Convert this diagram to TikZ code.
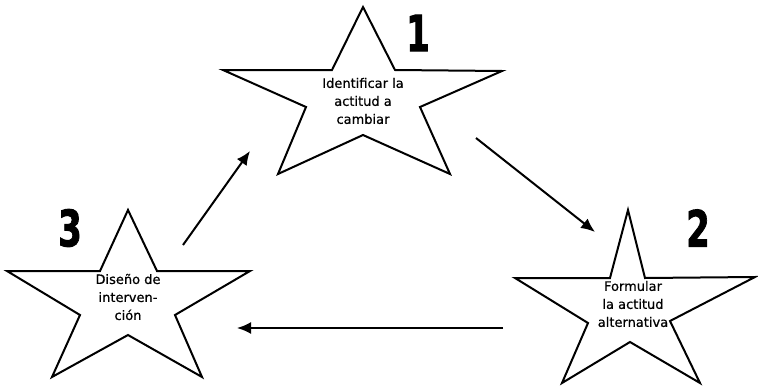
\documentclass[tikz,border=0pt]{standalone}
\usepackage{fontspec}
\usepackage{graphicx}
\setmainfont{DejaVu Sans}
\newfontfamily\labelfont{DejaVu Sans}[FakeBold=0.6]
\newfontfamily\numfont{DejaVu Sans Bold}[FakeBold=2]
\usetikzlibrary{arrows.meta}

\newcommand{\bignum}[1]{\scalebox{0.68}[1]{\numfont\fontsize{50}{50}\selectfont #1}}

\begin{document}
\begin{tikzpicture}[
        x=1pt, y=-1pt,
        starline/.style={line width=2pt, line join=miter},
        steptext/.style={align=center, font=\labelfont\fontsize{13}{18}\selectfont},
        num/.style={inner sep=0pt},
        flow/.style={-{Latex[length=14pt, width=12pt]}, line width=2pt}
    ]
    \useasboundingbox (0,0) rectangle (758,388);

    % stars
    \draw[starline] (363,7) -- (395,70) -- (502,71) -- (420,107) -- (450,174) -- (363,135)
        -- (278,174) -- (306,107) -- (223,70) -- (332,70) -- cycle;
    \draw[starline] (628,210) -- (645,278) -- (755,277) -- (670,321) -- (700,383) -- (630,342)
        -- (562,383) -- (588,323) -- (515,278) -- (610,278) -- cycle;
    \draw[starline] (128,210) -- (157,271) -- (250,271) -- (175,315) -- (202,377) -- (128,335)
        -- (52,377) -- (80,315) -- (7,271) -- (100,271) -- cycle;

    % texts
    \node[steptext] (t1) at (363,101) {Identificar la\\actitud a\\cambiar};
    \node[steptext] (t2) at (633,304) {Formular\\la actitud\\alternativa};
    \node[steptext] (t3) at (128,297) {Diseño de\\interven-\\ción};

    \node[num] (n1) at (418,33) {\bignum{1}};
    \node[num] (n2) at (698,228) {\bignum{2}};
    \node[num] (n3) at (70,228) {\bignum{3}};

    % arrows
    \coordinate (a31s) at (183,245);
    \coordinate (a31e) at (250,151);
    \coordinate (a12s) at (476,138);
    \coordinate (a12e) at (595,232);
    \coordinate (a23s) at (503,328);
    \coordinate (a23e) at (237,328);

    \draw[flow] (a31s) -- (a31e);
    \draw[flow] (a12s) -- (a12e);
    \draw[flow] (a23s) -- (a23e);

\end{tikzpicture}
\end{document}
